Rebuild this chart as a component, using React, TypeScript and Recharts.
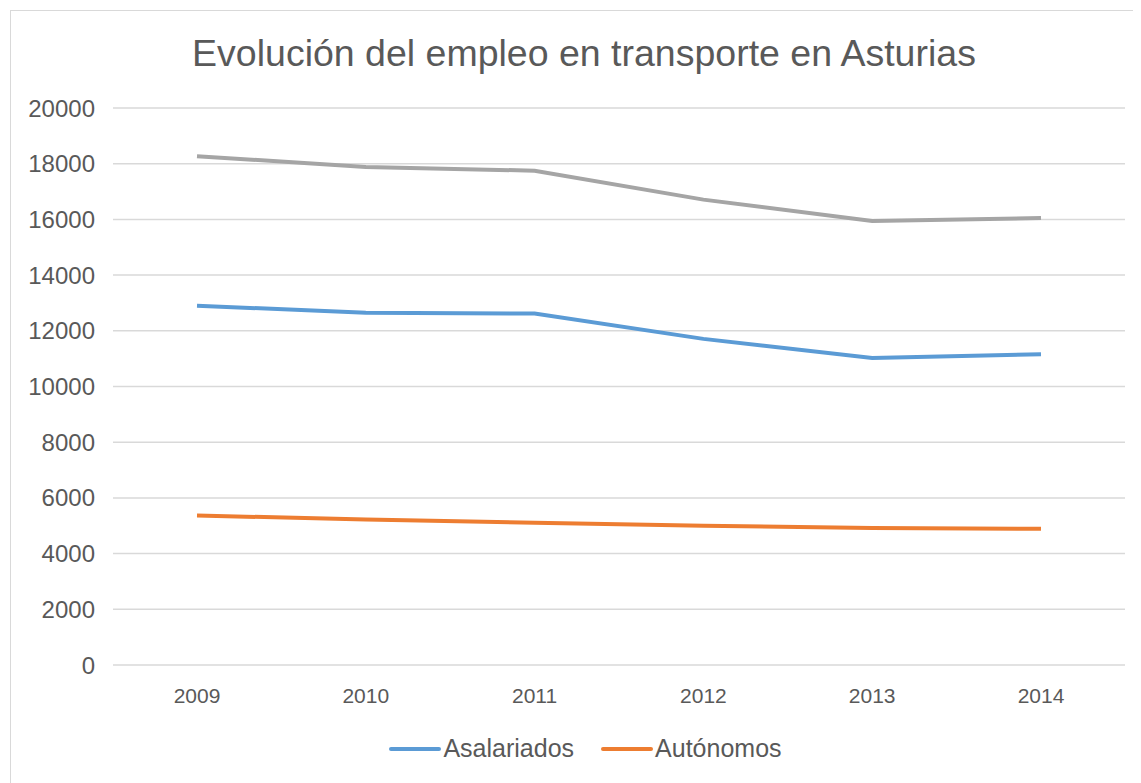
import React from 'react';
import { LineChart, Line, XAxis, YAxis, CartesianGrid, Legend } from 'recharts';

const years = ['2009', '2010', '2011', '2012', '2013', '2014'];
const asalariados = [12900, 12650, 12620, 11710, 11025, 11160];
const autonomos = [5370, 5220, 5110, 5000, 4920, 4890];
const total = [18270, 17880, 17750, 16710, 15945, 16050];
const yTicks = [0, 2000, 4000, 6000, 8000, 10000, 12000, 14000, 16000, 18000, 20000];
const title = 'Evolución del empleo en transporte en Asturias';

const data = years.map((y, i) => ({
  year: y,
  Asalariados: asalariados[i],
  'Autónomos': autonomos[i],
  Total: total[i],
}));

const FONT = '"Liberation Sans", Arial, sans-serif';
const TEXT = '#595959';

const renderLegend = (props: any) => {
  const items = (props.payload || []).filter((p: any) => p.value !== 'Total');
  return (
    <div style={{ display: 'flex', justifyContent: 'center', paddingLeft: 22, fontFamily: FONT }}>
      {items.map((it: any, i: number) => (
        <div
          key={it.value}
          style={{ display: 'flex', alignItems: 'center', marginRight: i < items.length - 1 ? 27 : 0 }}
        >
          <div style={{ width: 52, height: 4, background: it.color, borderRadius: 2, marginRight: 2 }} />
          <span style={{ fontSize: 25, color: TEXT }}>{it.value}</span>
        </div>
      ))}
    </div>
  );
};

export default function App() {
  return (
    <div style={{ position: 'relative', width: 1133, height: 775 }}>
      <div
        style={{
          position: 'absolute',
          left: 2,
          top: 2,
          width: 1140,
          height: 780,
          border: '1px solid #D9D9D9',
          boxSizing: 'border-box',
        }}
      />
      <div
        style={{
          position: 'absolute',
          left: 0,
          top: 24,
          width: 1152,
          textAlign: 'center',
          fontFamily: FONT,
          fontSize: 37.5,
          color: TEXT,
          whiteSpace: 'nowrap',
        }}
      >
        {title}
      </div>
      <div style={{ position: 'absolute', left: 0, top: 0 }}>
        <LineChart
          width={1133}
          height={775}
          data={data}
          margin={{ top: 100, right: 16, left: 0, bottom: 58 }}
        >
          <CartesianGrid vertical={false} stroke="#D9D9D9" strokeWidth={1.5} />
          <XAxis
            dataKey="year"
            padding={{ left: 84, right: 84 }}
            axisLine={false}
            tickLine={false}
            tickMargin={17}
            height={60}
            tick={{ fill: TEXT, fontSize: 21, fontFamily: FONT }}
          />
          <YAxis
            width={105}
            domain={[0, 20000]}
            ticks={yTicks}
            interval={0}
            axisLine={false}
            tickLine={false}
            tickMargin={12}
            tick={{ fill: TEXT, fontSize: 24, fontFamily: FONT }}
          />
          <Line
            type="linear"
            dataKey="Total"
            stroke="#A5A5A5"
            strokeWidth={4}
            dot={false}
            isAnimationActive={false}
          />
          <Line
            type="linear"
            dataKey="Asalariados"
            stroke="#5B9BD5"
            strokeWidth={4}
            dot={false}
            isAnimationActive={false}
          />
          <Line
            type="linear"
            dataKey="Autónomos"
            stroke="#ED7D31"
            strokeWidth={4}
            dot={false}
            isAnimationActive={false}
          />
          <Legend
            layout="horizontal"
            verticalAlign="middle"
            align="center"
            wrapperStyle={{ top: 726, left: 0, width: 1133 }}
            content={renderLegend}
          />
        </LineChart>
      </div>
    </div>
  );
}
